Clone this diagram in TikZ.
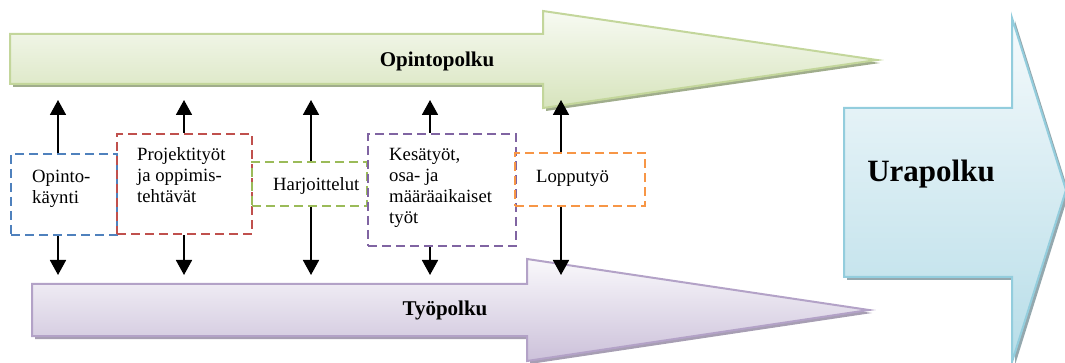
\documentclass[tikz,border=0pt]{standalone}
\usepackage{fontspec}
\setmainfont{Liberation Serif}
\usetikzlibrary{arrows.meta}

% path colours
\definecolor{gline}{HTML}{C3D69B}
\definecolor{gtop}{HTML}{F7FAF2}
\definecolor{gbot}{HTML}{D7E4BD}
\definecolor{gsh}{HTML}{A0AD8C}
\definecolor{pline}{HTML}{B3A2C7}
\definecolor{ptop}{HTML}{F9F8FB}
\definecolor{pbot}{HTML}{CCC1DA}
\definecolor{psh}{HTML}{A79EB3}
\definecolor{cline}{HTML}{93CDDD}
\definecolor{ctop}{HTML}{F5FAFC}
\definecolor{cbot}{HTML}{B7DDE8}
\definecolor{csh}{HTML}{94A8AE}
% box colours
\definecolor{bblue}{HTML}{4F81BD}
\definecolor{bred}{HTML}{C0504D}
\definecolor{bgreen}{HTML}{9BBB59}
\definecolor{bpurple}{HTML}{8064A2}
\definecolor{borange}{HTML}{F79646}

\begin{document}
\begin{tikzpicture}[x=1pt,y=-1pt,
  shadowed/.style={preaction={fill=#1,transform canvas={xshift=3pt,yshift=-3pt}}},
  bigarrow/.style n args={4}{shadowed=#4,draw=#1,line width=2pt,top color=#2,bottom color=#3},
  pathlabel/.style={anchor=base,inner sep=0pt,font=\fontsize{21}{24}\selectfont\bfseries},
  dbox/.style={draw=#1,line width=2.4pt,dash pattern=on 9pt off 5pt,rectangle,inner sep=0pt},
  boxtext/.style={anchor=base west,inner sep=0pt,align=left,font=\fontsize{18.7}{21}\selectfont},
  conn/.style={line width=1.8pt,-{Triangle[width=16pt,length=15pt]}}
]
\useasboundingbox (0,0) rectangle (1065,363);

% Opintopolku (study path)
\path[bigarrow={gline}{gtop}{gbot}{gsh}]
  (10,34) -- (543,34) -- (543,11) -- (877,60) -- (543,108) -- (543,84) -- (10,84) -- cycle;
\node[pathlabel] (opinto) at (437,66.5) {Opintopolku};

% Työpolku (work path)
\path[bigarrow={pline}{ptop}{pbot}{psh}]
  (32,284) -- (527,284) -- (527,259) -- (869,310) -- (527,361) -- (527,336) -- (32,336) -- cycle;
\node[pathlabel] (tyo) at (445,315) {Työpolku};

% Urapolku (career path)
\path[bigarrow={cline}{ctop}{cbot}{csh}]
  (844,108) -- (1012,108) -- (1012,18) -- (1066,190) -- (1012,362) -- (1012,277) -- (844,277) -- cycle;
\node[pathlabel,font=\fontsize{31}{34}\selectfont\bfseries] (ura) at (931,182) {Urapolku};

% dashed activity boxes
\node[dbox=bblue,minimum width=106pt,minimum height=81pt] (b1) at (64,194.5) {};
\node[dbox=bred,minimum width=135pt,minimum height=100pt] (b2) at (184.5,184) {};
\node[dbox=bgreen,minimum width=115pt,minimum height=44pt] (b3) at (309.5,184) {};
\node[dbox=bpurple,minimum width=148pt,minimum height=112pt] (b4) at (442,190) {};
\node[dbox=borange,minimum width=130pt,minimum height=53pt] (b5) at (580,179.5) {};

% box texts, placed by the baseline of their last line
\node[boxtext] (t1) at (32,204) {Opinto-\\käynti};
\node[boxtext] (t2) at (137,202.7) {Projektityöt\\ja oppimis-\\tehtävät};
\node[boxtext] (t3) at (273,191) {Harjoittelut};
\node[boxtext] (t4) at (389,223.7) {Kesätyöt,\\osa- ja\\määräaikaiset\\työt};
\node[boxtext] (t5) at (536,182.7) {Lopputyö};

% arrow ends towards the two paths
\coordinate (u1) at (58,100);  \coordinate (d1) at (58,275);
\coordinate (u2) at (184,100); \coordinate (d2) at (184,275);
\coordinate (u3) at (311,100); \coordinate (d3) at (311,275);
\coordinate (u4) at (430,100); \coordinate (d4) at (430,275);
\coordinate (u5) at (561,100); \coordinate (d5) at (561,275);

\foreach \i in {1,...,5}{
  \draw[conn] (b\i.north -| u\i) -- (u\i);
  \draw[conn] (b\i.south -| d\i) -- (d\i);
}
\end{tikzpicture}
\end{document}
